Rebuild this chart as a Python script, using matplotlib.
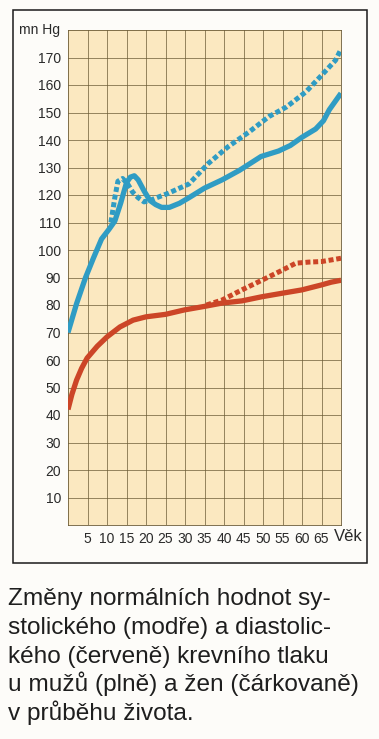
import matplotlib
matplotlib.use("Agg")
import matplotlib.pyplot as plt
from matplotlib.patches import Rectangle
import numpy as np

# systolic, men (solid blue)
sys_m_age = [0, 2.2, 4.5, 6.5, 8.6, 10.5, 12, 13.5, 15, 16, 17, 18, 19.5, 21, 22.5, 24, 26, 28.6, 31, 35, 39.5, 44, 49.5, 54, 57, 60, 63.5, 65.5, 67, 68.5, 70]
sys_m_val = [70, 80.5, 90, 97, 104, 107.5, 110.5, 117, 124.5, 126.5, 127, 125.5, 121.5, 118, 116.5, 115.5, 115.5, 117, 119, 122.5, 125.5, 129, 134, 136, 138, 141, 144, 147, 151, 154, 157]

# systolic, women (dashed blue)
sys_w_age = [11, 12, 12.8, 14, 15.3, 16.6, 18, 19.5, 21, 22.7, 25.5, 28.6, 31, 36, 41, 46.5, 51.5, 56, 61, 65, 68.6, 70]
sys_w_val = [110, 119, 125, 126, 124, 121, 119, 117.5, 118, 119, 120.5, 122.5, 124, 131.5, 137.5, 143, 148.5, 152, 157.5, 163.5, 169, 173]

# diastolic, men (solid red)
dia_m_age = [0, 1, 2.2, 3.5, 4.9, 7.5, 10, 13.3, 16.7, 20, 25, 29.8, 35, 39.5, 44.6, 49.7, 55, 60, 65, 67.5, 70]
dia_m_val = [42, 47.5, 52.7, 57, 60.7, 65, 68.4, 72, 74.5, 75.7, 76.6, 78.2, 79.5, 80.7, 81.5, 83, 84.3, 85.5, 87.3, 88.3, 89]

# diastolic, women (dashed red)
dia_w_age = [35.5, 39.5, 44.6, 49.7, 55, 58.4, 61.7, 65, 68, 70]
dia_w_val = [80, 81.8, 85.5, 89, 92.7, 95.2, 95.6, 95.8, 96.5, 97]

x_ticks = list(range(5, 70, 5))
y_ticks = list(range(10, 180, 10))

caption = ["Změny normálních hodnot sy-",
           "stolického (modře) a diastolic-",
           "kého (červeně) krevního tlaku",
           "u mužů (plně) a žen (čárkovaně)",
           "v průběhu života."]

blue = "#2f9cc4"
red = "#cc4527"
grid_col = "#6b5a35"
tick_font = "Liberation Sans"

fig = plt.figure(figsize=(3.79, 7.39), dpi=100)
fig.patch.set_facecolor("#fdfcf9")
ax = fig.add_axes([68/379, 1 - 525/739, 273/379, 495/739])
ax.set_facecolor("#fbe8c0")
ax.set_xlim(0, 70)
ax.set_ylim(0, 180)

for v in np.arange(5, 70, 5):
    ax.axvline(v, color=grid_col, lw=0.5, zorder=1)
for v in np.arange(10, 180, 10):
    ax.axhline(v, color=grid_col, lw=0.5, zorder=1)
for s in ax.spines.values():
    s.set_color(grid_col)
    s.set_linewidth(0.6)

ax.plot(sys_m_age, sys_m_val, color=blue, lw=3.8, solid_capstyle="butt", solid_joinstyle="round", zorder=4)
ax.plot(sys_w_age, sys_w_val, color=blue, lw=3.6, dashes=(1.0, 0.55), dash_capstyle="butt", zorder=3)
ax.plot(dia_m_age, dia_m_val, color=red, lw=3.8, solid_capstyle="butt", solid_joinstyle="round", zorder=4)
ax.plot(dia_w_age, dia_w_val, color=red, lw=3.6, dashes=(1.0, 0.55), dash_capstyle="butt", zorder=3)

ax.set_xticks(x_ticks)
ax.set_yticks(y_ticks)
ax.set_xticklabels([str(t) for t in x_ticks], family=tick_font, fontsize=10, color="#2a2a2a")
ax.set_yticklabels([str(t) for t in y_ticks], family=tick_font, fontsize=10, color="#2a2a2a")
ax.tick_params(length=0, pad=5)

ax.text(-2.0, 180, "mn Hg", ha="right", va="center", family=tick_font, fontsize=10, color="#2a2a2a", clip_on=False)
ax.text(71.8, -1.5, "Věk", ha="center", va="top", family=tick_font, fontsize=12, color="#2a2a2a", clip_on=False)

# outer frame
fig.patches.append(Rectangle((13/379, 1 - 563/739), 354/379, 553/739, transform=fig.transFigure,
                             fill=False, edgecolor="#1a1a1a", lw=1.1))

y0 = 605
for i, line in enumerate(caption):
    fig.text(8/379, 1 - (y0 + i*28.8)/739, line, ha="left", va="baseline",
             family="Liberation Sans", fontsize=17.6, color="#1e1e1e")

fig.savefig("out.png", dpi=100, facecolor=fig.get_facecolor())
